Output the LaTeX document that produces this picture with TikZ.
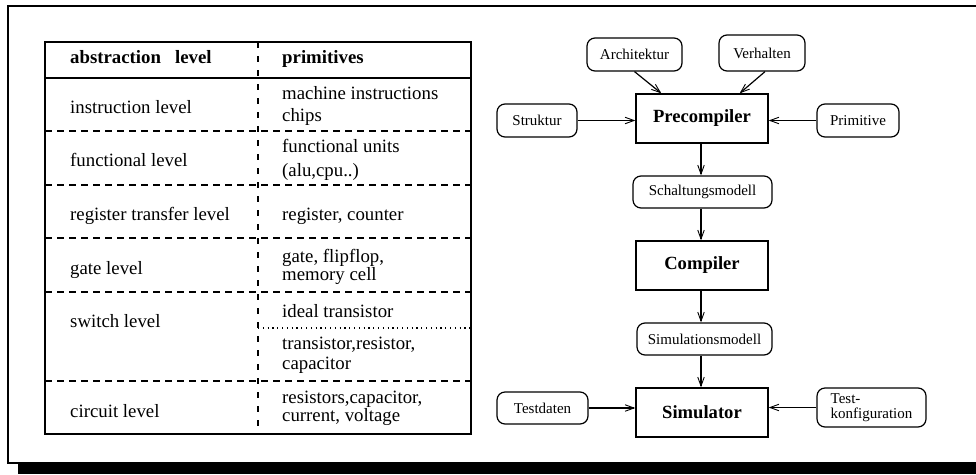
\documentclass[tikz,border=0pt]{standalone}
\usepackage{fontspec}
\setmainfont{Liberation Serif}
\usetikzlibrary{arrows.meta}
\begin{document}
\begin{tikzpicture}[x=1pt,y=-1pt,
  cell/.style={anchor=base west,inner sep=0pt,align=left,font=\fontsize{18.8}{21}\selectfont},
  head/.style={cell,font=\fontsize{18.8}{21}\selectfont\bfseries},
  rowline/.style={line width=1.2pt,dash pattern=on 7pt off 5pt},
  stage/.style={draw,line width=1.3pt,minimum width=132pt,minimum height=49pt,inner sep=0pt,font=\fontsize{18.6}{21}\selectfont\bfseries},
  data/.style={draw,line width=1.2pt,rounded corners=8pt,inner sep=0pt,font=\fontsize{15}{17}\selectfont},
  arr/.style={line width=1.2pt,-{Straight Barb[length=9pt,width=6.5pt,line width=0.9pt]}}
]
\useasboundingbox (0,0) rectangle (976,474);
% page frame with its shadow
\fill[black] (18,463) rectangle (976,474);
\draw[line width=2.4pt] (976,6) -- (8,6) -- (8,463) -- (976,463);

% ---------------- table of abstraction levels ----------------
\draw[line width=2pt] (45,42) rectangle (471,434);
\draw[line width=1.5pt] (45,78) -- (471,78);
\foreach \y in {131,185,238,292,381} \draw[rowline] (45,\y) -- (471,\y);
\draw[line width=1.2pt,dash pattern=on 1.2pt off 3.6pt] (258,328) -- (471,328);
\draw[line width=1.2pt,dash pattern=on 6pt off 8pt] (258,42) -- (258,434);

\node[head] (h1) at (70,63) {abstraction\ \ \ level};
\node[head] (h2) at (282,63) {primitives};

\node[cell] (l1) at (70,113) {instruction level};
\node[cell] (p1a) at (282,99) {machine instructions};
\node[cell] (p1b) at (282,121) {chips};

\node[cell] (l2) at (70,166) {functional level};
\node[cell] (p2a) at (282,152) {functional units};
\node[cell] (p2b) at (282,176) {(alu,cpu..)};

\node[cell] (l3) at (70,220) {register transfer level};
\node[cell] (p3) at (282,220) {register, counter};

\node[cell] (l4) at (70,274) {gate level};
\node[cell] (p4a) at (282,262) {gate, flipflop,};
\node[cell] (p4b) at (282,280) {memory cell};

\node[cell] (l5) at (70,327) {switch level};
\node[cell] (p5a) at (282,317) {ideal transistor};
\node[cell] (p5b) at (282,349) {transistor,resistor,};
\node[cell] (p5c) at (282,369) {capacitor};

\node[cell] (l6) at (70,417) {circuit level};
\node[cell] (p6a) at (282,403) {resistors,capacitor,};
\node[cell] (p6b) at (282,421) {current, voltage};

% ---------------- tool chain ----------------
\node[stage] (pre) at (702,118.5) {Precompiler};
\node[stage] (comp) at (702,265.5) {Compiler};
\node[stage] (sim) at (702,412.5) {Simulator};

\node[data,minimum width=95pt,minimum height=33pt] (arch) at (634.5,54.5) {Architektur};
\node[data,minimum width=86pt,minimum height=36pt] (verh) at (762,53) {Verhalten};
\node[data,minimum width=80pt,minimum height=33pt] (struk) at (537,120.5) {Struktur};
\node[data,minimum width=82pt,minimum height=33pt] (prim) at (858,120.5) {Primitive};
\node[data,minimum width=139pt,minimum height=32pt] (schalt) at (702.5,192) {Schaltungsmodell};
\node[data,minimum width=135pt,minimum height=32pt] (simmod) at (704.5,339) {Simulationsmodell};
\node[data,minimum width=91pt,minimum height=32pt] (tdat) at (542.5,408) {Testdaten};
\node[data,minimum width=109pt,minimum height=39pt,align=left,font=\fontsize{15}{15}\selectfont] (tkonf) at (871.5,407.5) {Test-\\konfiguration};

\draw[arr] (arch.south) -- ([xshift=26pt]pre.north west);
\draw[arr] ([xshift=3pt]verh.south) -- ([xshift=-29pt]pre.north east);
\draw[arr] (struk.east) -- (struk.east -| pre.west);
\draw[arr] (prim.west) -- (prim.west -| pre.east);
\draw[arr] ([xshift=-1pt]pre.south) -- ([xshift=-1pt]pre.south |- schalt.north);
\draw[arr] ([xshift=-1pt]pre.south |- schalt.south) -- ([xshift=-1pt]comp.north);
\draw[arr] ([xshift=-1pt]comp.south) -- ([xshift=-1pt]comp.south |- simmod.north);
\draw[arr] ([xshift=-1pt]comp.south |- simmod.south) -- ([xshift=-1pt]sim.north);
\draw[arr] (tdat.east) -- (tdat.east -| sim.west);
\draw[arr] (tkonf.west) -- (tkonf.west -| sim.east);
\end{tikzpicture}
\end{document}
